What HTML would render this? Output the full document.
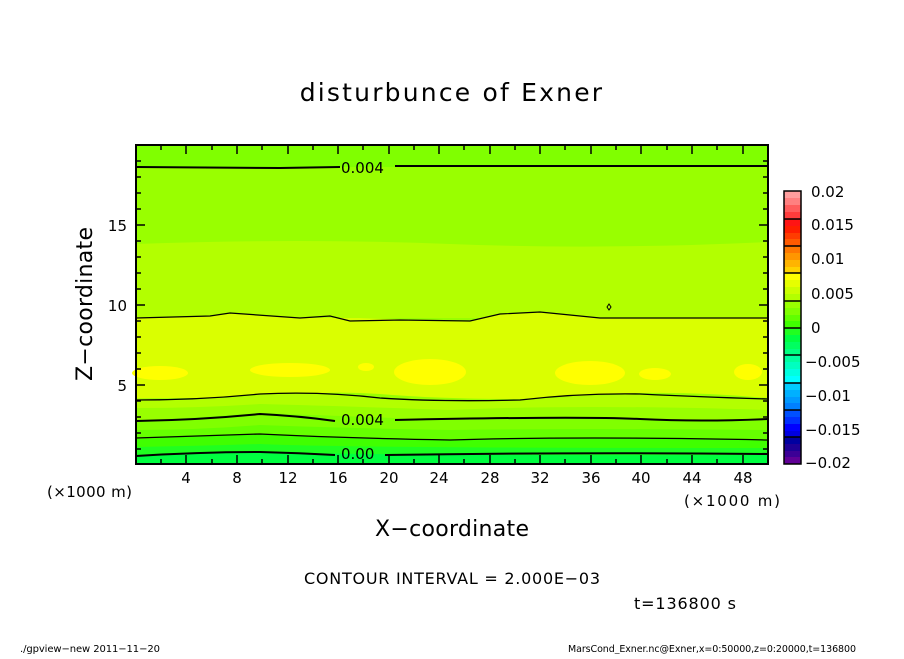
<!DOCTYPE html>
<html><head><meta charset="utf-8"><style>
body{margin:0;background:#fff;}
svg text{font-family:"DejaVu Sans","Liberation Sans",sans-serif;fill:#000;}
</style></head><body>
<svg width="904" height="654" viewBox="0 0 904 654" xmlns="http://www.w3.org/2000/svg">
<rect width="904" height="654" fill="#fff"/>
<text x="452" y="101" font-size="25" text-anchor="middle" letter-spacing="2.2">disturbunce of Exner</text>
<g>
<rect x="136" y="145" width="632" height="319" fill="#99ff00"/>
<rect x="136" y="145" width="632" height="22" fill="#80ff00"/>
<path d="M136 244 Q300 238 450 244 T768 242 L768 318 L136 318Z" fill="#b3ff00"/>
<path d="M136 318 L210 316 L230 313 L300 318 L360 318 L470 321 L500 314 L540 312 L600 318 L768 318 L768 398 Q700 392 640 393 Q580 396 520 399 Q440 399 380 394 Q320 390 260 398 Q200 398 136 398Z" fill="#daff00"/>
<ellipse cx="160" cy="373" rx="28" ry="7" fill="#ffff00"/>
<ellipse cx="290" cy="370" rx="40" ry="7" fill="#ffff00"/>
<ellipse cx="366" cy="367" rx="8" ry="4" fill="#ffff00"/>
<ellipse cx="430" cy="372" rx="36" ry="13" fill="#ffff00"/>
<ellipse cx="590" cy="373" rx="35" ry="12" fill="#ffff00"/>
<ellipse cx="655" cy="374" rx="16" ry="6" fill="#ffff00"/>
<ellipse cx="748" cy="372" rx="14" ry="8" fill="#ffff00"/>
<path d="M136 398 Q200 400 260 394 Q320 392 380 398 Q440 402 520 400 Q580 396 640 394 Q700 396 768 399 L768 464 L136 464Z" fill="#b3ff00"/>
<path d="M136 408 Q200 408 260 404 Q340 406 450 410 Q580 404 768 410 L768 464 L136 464Z" fill="#99ff00"/>
<path d="M136 420 Q200 418 260 413 Q340 416 450 420 Q580 416 640 419 Q700 422 768 419 L768 464 L136 464Z" fill="#80ff00"/>
<path d="M136 430 Q200 430 260 425 Q340 428 450 430 Q580 428 768 430 L768 464 L136 464Z" fill="#66ff00"/>
<path d="M136 439 Q200 436 260 434 Q340 438 450 440 Q580 436 768 440 L768 464 L136 464Z" fill="#40ff00"/>
<path d="M136 447 Q200 446 260 444 Q340 448 768 448 L768 464 L136 464Z" fill="#20ff20"/>
<path d="M136 455 Q200 452 260 452 Q400 456 768 455 L768 464 L136 464Z" fill="#00ff40"/>
</g>
<g fill="none" stroke="#000">
<path d="M136 167 L280 168 L340 167 M395 166 L768 166" stroke-width="2"/>
<path d="M136 318 L210 316 L230 313 L300 318 L330 316 L350 321 L400 320 L470 321 L500 314 L540 312 L600 318 L768 318" stroke-width="1.2"/>
<path d="M136 400 Q200 400 260 394 Q320 391 380 398 Q440 402 520 400 Q580 393 640 394 Q700 397 768 399" stroke-width="1.3"/>
<path d="M136 421 Q200 420 260 414 Q300 416 335 421 M395 420 Q580 416 640 419 Q700 422 768 419" stroke-width="2"/>
<path d="M136 438 Q200 436 260 434 Q340 438 450 440 Q580 436 768 440" stroke-width="1.3"/>
<path d="M136 456 Q200 452 260 452 Q300 453 335 455 M385 455 Q580 452 768 454" stroke-width="2"/>
<path d="M607 307 l2 -3 l2 3 l-2 3z" stroke-width="1"/>
</g>
<text x="341" y="173" font-size="15">0.004</text>
<text x="341" y="425" font-size="15">0.004</text>
<text x="341" y="459" font-size="15">0.00</text>
<rect x="136" y="145" width="632" height="319" fill="none" stroke="#000" stroke-width="2"/>
<g stroke="#000" stroke-width="1.5">
<path d="M161 464v-5M212 464v-5M262 464v-5M313 464v-5M363 464v-5M414 464v-5M464 464v-5M515 464v-5M565 464v-5M616 464v-5M667 464v-5M717 464v-5
M186 464v-9M237 464v-9M288 464v-9M338 464v-9M389 464v-9M439 464v-9M490 464v-9M540 464v-9M591 464v-9M641 464v-9M692 464v-9M743 464v-9
M161 145v5M212 145v5M262 145v5M313 145v5M363 145v5M414 145v5M464 145v5M515 145v5M565 145v5M616 145v5M667 145v5M717 145v5
M186 145v9M237 145v9M288 145v9M338 145v9M389 145v9M439 145v9M490 145v9M540 145v9M591 145v9M641 145v9M692 145v9M743 145v9"/>
<path d="M136 449h5M136 433h5M136 417h5M136 401h5M136 369h5M136 353h5M136 337h5M136 321h5M136 289h5M136 273h5M136 257h5M136 241h5M136 209h5M136 193h5M136 177h5M136 161h5
M136 385h9M136 305h9M136 225h9
M768 449h-5M768 433h-5M768 417h-5M768 401h-5M768 369h-5M768 353h-5M768 337h-5M768 321h-5M768 289h-5M768 273h-5M768 257h-5M768 241h-5M768 209h-5M768 193h-5M768 177h-5M768 161h-5
M768 385h-9M768 305h-9M768 225h-9"/>
</g>
<g font-size="15" text-anchor="middle">
<text x="186" y="483">4</text><text x="237" y="483">8</text><text x="288" y="483">12</text><text x="338" y="483">16</text><text x="389" y="483">20</text><text x="439" y="483">24</text><text x="490" y="483">28</text><text x="540" y="483">32</text><text x="591" y="483">36</text><text x="641" y="483">40</text><text x="692" y="483">44</text><text x="743" y="483">48</text>
</g>
<g font-size="15" text-anchor="end">
<text x="127" y="231">15</text><text x="127" y="311">10</text><text x="127" y="391">5</text>
</g>
<text x="47" y="497" font-size="15" textLength="85">(×1000 m)</text>
<text x="684" y="506" font-size="15" textLength="96">(×1000 m)</text>
<text x="452" y="536" font-size="22" text-anchor="middle" textLength="154">X−coordinate</text>
<text transform="translate(92,304) rotate(-90)" font-size="22" text-anchor="middle" textLength="154">Z−coordinate</text>
<text x="304" y="584" font-size="16" textLength="296">CONTOUR INTERVAL = 2.000E−03</text>
<text x="634" y="609" font-size="16" textLength="102">t=136800 s</text>
<text x="20" y="652" font-size="10" textLength="140">./gpview−new  2011−11−20</text>
<text x="568" y="652" font-size="9.5" textLength="288">MarsCond_Exner.nc@Exner,x=0:50000,z=0:20000,t=136800</text>
<g>
<rect x="784" y="191" width="17" height="7" fill="#ff9e9e"/><rect x="784" y="198" width="17" height="7" fill="#ff8080"/><rect x="784" y="205" width="17" height="7" fill="#ff5c5c"/><rect x="784" y="212" width="17" height="7" fill="#ff3c3c"/>
<rect x="784" y="219" width="17" height="7" fill="#ff1414"/><rect x="784" y="226" width="17" height="7" fill="#ff1e00"/><rect x="784" y="233" width="17" height="6" fill="#ff3c00"/><rect x="784" y="239" width="17" height="7" fill="#ff5a00"/>
<rect x="784" y="246" width="17" height="7" fill="#ff7800"/><rect x="784" y="253" width="17" height="7" fill="#ff9600"/><rect x="784" y="260" width="17" height="7" fill="#ffb400"/><rect x="784" y="267" width="17" height="6" fill="#ffd200"/>
<rect x="784" y="273" width="17" height="7" fill="#ffff00"/><rect x="784" y="280" width="17" height="7" fill="#e6ff00"/><rect x="784" y="287" width="17" height="7" fill="#ccff00"/><rect x="784" y="294" width="17" height="7" fill="#b3ff00"/>
<rect x="784" y="301" width="17" height="7" fill="#99ff00"/><rect x="784" y="308" width="17" height="7" fill="#80ff00"/><rect x="784" y="315" width="17" height="6" fill="#60ff00"/><rect x="784" y="321" width="17" height="7" fill="#40ff00"/>
<rect x="784" y="328" width="17" height="7" fill="#20ff20"/><rect x="784" y="335" width="17" height="7" fill="#00ff40"/><rect x="784" y="342" width="17" height="7" fill="#00ff60"/><rect x="784" y="349" width="17" height="6" fill="#00ff80"/>
<rect x="784" y="355" width="17" height="7" fill="#00ffa0"/><rect x="784" y="362" width="17" height="7" fill="#00ffc0"/><rect x="784" y="369" width="17" height="7" fill="#00ffe0"/><rect x="784" y="376" width="17" height="7" fill="#00ffff"/>
<rect x="784" y="383" width="17" height="7" fill="#00ccff"/><rect x="784" y="390" width="17" height="7" fill="#00b0ff"/><rect x="784" y="397" width="17" height="6" fill="#0099ff"/><rect x="784" y="403" width="17" height="7" fill="#0080ff"/>
<rect x="784" y="410" width="17" height="7" fill="#0050ff"/><rect x="784" y="417" width="17" height="7" fill="#0030ff"/><rect x="784" y="424" width="17" height="7" fill="#0000ff"/><rect x="784" y="431" width="17" height="6" fill="#0000e0"/>
<rect x="784" y="437" width="17" height="7" fill="#0000a0"/><rect x="784" y="444" width="17" height="7" fill="#1e0096"/><rect x="784" y="451" width="17" height="6" fill="#3c0096"/><rect x="784" y="457" width="17" height="7" fill="#600096"/>
<path d="M784 219h17M784 246h17M784 273h17M784 301h17M784 328h17M784 355h17M784 383h17M784 410h17M784 437h17" stroke="#000" stroke-width="1.5"/>
<rect x="784" y="191" width="17" height="273" fill="none" stroke="#000" stroke-width="1.5"/>
</g>
<g font-size="15">
<text x="811" y="197">0.02</text><text x="811" y="230">0.015</text><text x="811" y="264">0.01</text><text x="811" y="299">0.005</text><text x="811" y="333">0</text><text x="805" y="367">−0.005</text><text x="805" y="401">−0.01</text><text x="805" y="435">−0.015</text><text x="805" y="468">−0.02</text>
</g>
</svg>
</body></html>
